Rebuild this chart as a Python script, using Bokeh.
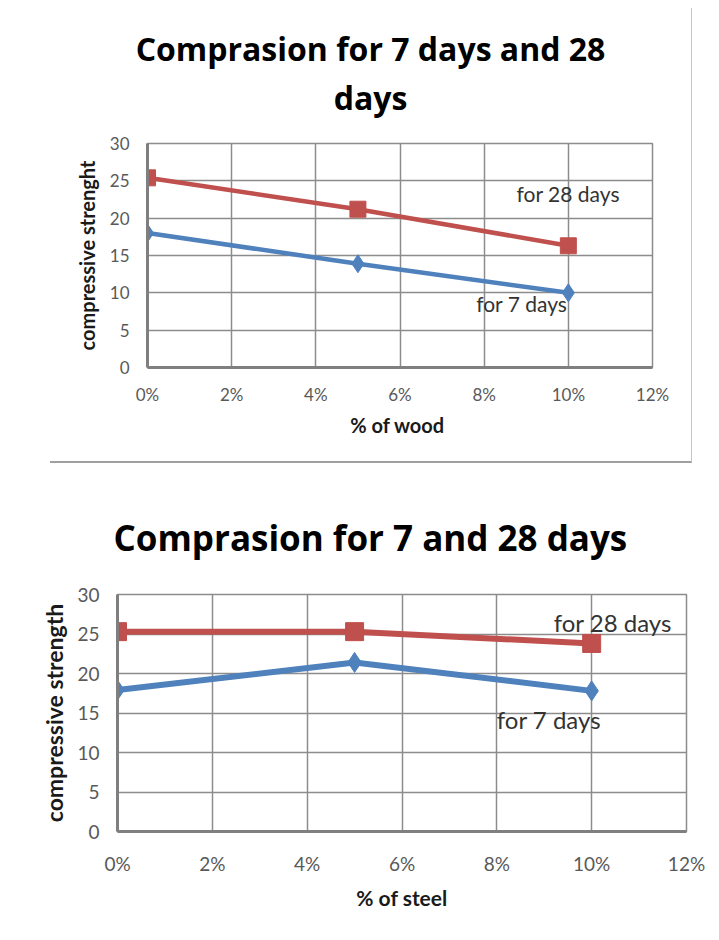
from bokeh.plotting import figure
from bokeh.models import Range1d, FixedTicker, Label, Title, Spacer
from bokeh.layouts import column, row
from bokeh.core.properties import value
from bokeh.embed import file_html
from bokeh.resources import INLINE

# ---- data ----
x_pct = [0, 5, 10]
wood_7 = [18.0, 13.9, 10.0]
wood_28 = [25.4, 21.2, 16.3]
steel_7 = [17.9, 21.4, 17.8]
steel_28 = [25.3, 25.3, 23.8]
x_ticks = [0, 2, 4, 6, 8, 10, 12]
x_tick_labels = ["0%", "2%", "4%", "6%", "8%", "10%", "12%"]
y_ticks = [0, 5, 10, 15, 20, 25, 30]
y_tick_labels = ["0", "5", "10", "15", "20", "25", "30"]
title_wood = ["Comprasion for 7 days and 28", "days"]
title_steel = "Comprasion for 7 and 28 days"

RED = "#C0504D"
BLUE = "#4F81BD"
GRID = "#8c8c8c"
FONT = "Lato"
TFONT = "Open Sans"


def make_chart(width, height, borders, xlabel, ylabel,
               y7, y28, tick_fs, xlabel_fs, ylabel_fs, ann_fs,
               lw, sq, dm, tick_st, xlab_st, ylab_st, ann28, ann7):
    p = figure(width=width, height=height, title=None,
               output_backend="svg", toolbar_location=None,
               x_range=Range1d(0, 12), y_range=Range1d(0, 30),
               min_border_left=borders[0], min_border_right=borders[1],
               min_border_top=borders[2], min_border_bottom=borders[3])
    p.background_fill_color = "white"
    p.border_fill_color = "white"
    p.outline_line_color = GRID
    p.outline_line_width = 1.5

    p.xaxis.ticker = FixedTicker(ticks=x_ticks)
    p.xaxis.major_label_overrides = dict(zip(x_ticks, x_tick_labels))
    p.yaxis.ticker = FixedTicker(ticks=y_ticks)
    p.yaxis.major_label_overrides = dict(zip(y_ticks, y_tick_labels))
    p.xgrid.ticker = FixedTicker(ticks=x_ticks)
    p.ygrid.ticker = FixedTicker(ticks=y_ticks)
    for g in (p.xgrid, p.ygrid):
        g.grid_line_color = GRID
        g.grid_line_width = 1.5

    for ax in (p.xaxis, p.yaxis):
        ax.axis_line_color = "#7f7f7f"
        ax.axis_line_width = 3
        ax.major_tick_line_color = None
        ax.minor_tick_line_color = None
        ax.major_tick_out = 0
        ax.major_tick_in = 0
        ax.major_label_text_font = FONT
        ax.major_label_text_font_size = tick_fs
        ax.major_label_text_color = "#595959"
        ax.axis_label_text_font = FONT
        ax.axis_label_text_font_style = "bold"
        ax.axis_label_text_color = "#1a1a1a"
    p.xaxis.major_label_standoff = tick_st[0]
    p.yaxis.major_label_standoff = tick_st[1]
    p.xaxis.axis_label_text_font_size = xlabel_fs
    p.yaxis.axis_label_text_font_size = ylabel_fs
    p.xaxis.axis_label = xlabel
    p.yaxis.axis_label = ylabel
    p.xaxis.axis_label_standoff = xlab_st
    p.yaxis.axis_label_standoff = ylab_st
    p.yaxis.major_label_orientation = "horizontal"

    p.line(x_pct, y28, line_color=RED, line_width=lw)
    p.scatter(x_pct, y28, marker="square", size=sq, fill_color=RED,
              line_color=RED)
    p.line(x_pct, y7, line_color=BLUE, line_width=lw)
    p.scatter(x_pct, y7, marker="diamond", size=dm, fill_color=BLUE,
              line_color=BLUE)

    p.add_layout(Label(x=ann28[0], y=ann28[1], text="for 28 days",
                       text_font=FONT, text_font_size=ann_fs,
                       text_color="#333333", text_baseline="middle"))
    p.add_layout(Label(x=ann7[0], y=ann7[1], text="for 7 days",
                       text_font=FONT, text_font_size=ann_fs,
                       text_color="#333333", text_baseline="middle"))
    return p


# ---- title panel of the first chart (two lines, centred) ----
TW, TH = 642, 115
pt = figure(width=TW, height=TH, title=None, output_backend="svg",
            toolbar_location=None, x_range=Range1d(0, TW),
            y_range=Range1d(0, TH), min_border=0)
pt.axis.visible = False
pt.grid.visible = False
pt.outline_line_color = None
pt.background_fill_color = "white"
pt.border_fill_color = "white"
pt.text(x=[320, 320], y=[75, 26], text=title_wood,
        text_font=value(TFONT), text_font_size=value("32px"),
        text_font_style="bold", text_color="#000000",
        text_align="center", text_baseline="middle")
pt.styles = {"border-right": "1px solid #c8c8c8"}

p1 = make_chart(642, 340, (97, 40, 20, 96),
                "% of  wood", "compressive strenght", wood_7, wood_28,
                "17px", "20px", "20px", "21px", 4.5, 16, 18,
                (16, 18), 5, 8, (8.77, 23.3), (7.81, 8.57))
p1.styles = {"border-right": "1px solid #c8c8c8",
             "border-bottom": "2px solid #a0a0a0"}

p2 = make_chart(703, 468, (109, 25, 131, 100),
                "% of steel", "compressive strength", steel_7, steel_28,
                "19px", "21px", "23px", "24px", 6, 18, 20,
                (20, 18), 7, 6, (9.2, 26.5), (8.0, 14.2))
p2.add_layout(Title(text=title_steel, align="left",
                    offset=-4, standoff=68, text_font=TFONT,
                    text_font_size="35px", text_font_style="bold",
                    text_color="#000000"), "above")

layout = column(Spacer(width=8, height=8),
                row(Spacer(width=50, height=TH), pt),
                row(Spacer(width=50, height=340), p1),
                row(Spacer(width=8, height=468), p2))

open("out.html", "w").write(file_html(layout, INLINE))
